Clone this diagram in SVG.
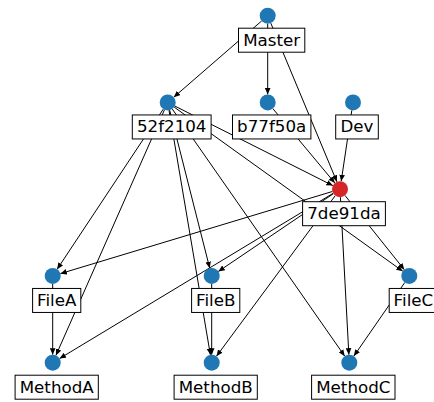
<svg xmlns="http://www.w3.org/2000/svg" width="434" height="402" viewBox="0 0 434 402">
  <style>
    .edge { stroke: #000; stroke-width: 1; fill: none; marker-end: url(#arrow); }
    .node { fill: #1f77b4; }
    .node.hot { fill: #d62728; }
    .box { fill: #fff; stroke: #000; stroke-width: 1; }
    .lbl { font-family: "DejaVu Sans", "Liberation Sans", sans-serif; font-size: 16.7px; text-anchor: middle; fill: #000; }
  </style>
  <defs>
    <marker id="arrow" viewBox="0 0 6.5 6" refX="6.5" refY="3" markerWidth="6.5" markerHeight="6" markerUnits="userSpaceOnUse" orient="auto">
      <path d="M0,0.2 L6.5,3 L0,5.8 z" fill="#000"/>
    </marker>
  </defs>
  <rect width="434" height="402" fill="#fff"/>

  <g id="edges">
    <line class="edge" x1="261.66" y1="20.94" x2="173.74" y2="97.21"/>
    <line class="edge" x1="267.7" y1="23.7" x2="267.7" y2="94.45"/>
    <line class="edge" x1="270.78" y1="23.08" x2="336.92" y2="181.82"/>
    <line class="edge" x1="174.85" y1="106.05" x2="332.85" y2="185.6"/>
    <line class="edge" x1="163.28" y1="109.12" x2="57.12" y2="269.28"/>
    <line class="edge" x1="169.67" y1="110.2" x2="209.73" y2="268.2"/>
    <line class="edge" x1="174.2" y1="107.12" x2="402.8" y2="271.28"/>
    <line class="edge" x1="164.47" y1="109.77" x2="55.93" y2="355.38"/>
    <line class="edge" x1="169.03" y1="110.34" x2="210.37" y2="354.81"/>
    <line class="edge" x1="172.28" y1="109.01" x2="344.72" y2="356.14"/>
    <line class="edge" x1="272.82" y1="108.6" x2="334.88" y2="183.05"/>
    <line class="edge" x1="351.81" y1="110.36" x2="341.19" y2="181.29"/>
    <line class="edge" x1="332.34" y1="191.51" x2="60.36" y2="273.64"/>
    <line class="edge" x1="333.37" y1="193.68" x2="218.33" y2="271.47"/>
    <line class="edge" x1="344.99" y1="195.45" x2="404.31" y2="269.7"/>
    <line class="edge" x1="333.15" y1="193.34" x2="59.55" y2="358.56"/>
    <line class="edge" x1="335.24" y1="195.63" x2="216.46" y2="356.27"/>
    <line class="edge" x1="340.43" y1="197.19" x2="348.87" y2="354.71"/>
    <line class="edge" x1="52.7" y1="283.95" x2="52.7" y2="354.7"/>
    <line class="edge" x1="211.7" y1="283.95" x2="211.7" y2="354.7"/>
    <line class="edge" x1="404.75" y1="282.53" x2="353.85" y2="356.12"/>
  </g>

  <g id="Master">
    <circle class="node" cx="267.7" cy="15.7" r="8"/>
    <rect class="box" x="238.5" y="28.2" width="66.3" height="24"/>
    <text class="lbl" x="271.7" y="45.7">Master</text>
  </g>
  <g id="n52f2104">
    <circle class="node" cx="167.7" cy="102.45" r="8"/>
    <rect class="box" x="132.3" y="114.95" width="78.8" height="24"/>
    <text class="lbl" x="171.7" y="132.45">52f2104</text>
  </g>
  <g id="b77f50a">
    <circle class="node" cx="267.7" cy="102.45" r="8"/>
    <rect class="box" x="232.5" y="114.95" width="78.4" height="24"/>
    <text class="lbl" x="271.7" y="132.45">b77f50a</text>
  </g>
  <g id="Dev">
    <circle class="node" cx="353" cy="102.45" r="8"/>
    <rect class="box" x="335.7" y="114.95" width="42.6" height="24"/>
    <text class="lbl" x="357" y="132.45">Dev</text>
  </g>
  <g id="n7de91da">
    <circle class="node hot" cx="340" cy="189.2" r="8"/>
    <rect class="box" x="302.6" y="201.7" width="82.8" height="24"/>
    <text class="lbl" x="344" y="219.2">7de91da</text>
  </g>
  <g id="FileA">
    <circle class="node" cx="52.7" cy="275.95" r="8"/>
    <rect class="box" x="32.6" y="288.45" width="48.2" height="24"/>
    <text class="lbl" x="56.7" y="305.95">FileA</text>
  </g>
  <g id="FileB">
    <circle class="node" cx="211.7" cy="275.95" r="8"/>
    <rect class="box" x="191.6" y="288.45" width="48.2" height="24"/>
    <text class="lbl" x="215.7" y="305.95">FileB</text>
  </g>
  <g id="FileC">
    <circle class="node" cx="409.3" cy="275.95" r="8"/>
    <rect class="box" x="389.2" y="288.45" width="48.4" height="24"/>
    <text class="lbl" x="413.4" y="305.95">FileC</text>
  </g>
  <g id="MethodA">
    <circle class="node" cx="52.7" cy="362.7" r="8"/>
    <rect class="box" x="15.1" y="375.2" width="83.2" height="24"/>
    <text class="lbl" x="56.7" y="392.7">MethodA</text>
  </g>
  <g id="MethodB">
    <circle class="node" cx="211.7" cy="362.7" r="8"/>
    <rect class="box" x="174.1" y="375.2" width="83.2" height="24"/>
    <text class="lbl" x="215.7" y="392.7">MethodB</text>
  </g>
  <g id="MethodC">
    <circle class="node" cx="349.3" cy="362.7" r="8"/>
    <rect class="box" x="311.6" y="375.2" width="83.4" height="24"/>
    <text class="lbl" x="353.3" y="392.7">MethodC</text>
  </g>
</svg>
